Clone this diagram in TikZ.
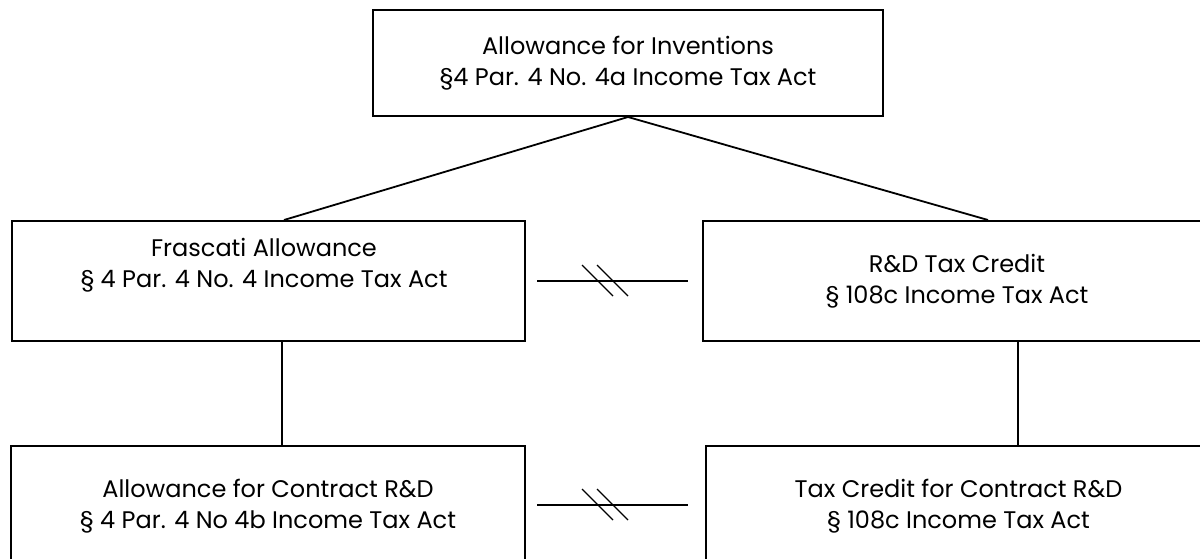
\documentclass[tikz,border=0pt]{standalone}
\usepackage{fontspec}
\setmainfont{Poppins}
\begin{document}
\begin{tikzpicture}[x=1pt,y=-1pt,
  box/.style={draw=black,line width=2pt,rectangle,inner sep=0pt,align=center,
    font=\fontsize{24}{31.5}\selectfont},
  txt/.style={inner sep=0pt,align=center,font=\fontsize{24}{31.5}\selectfont},
  conn/.style={draw=black,line width=1.8pt},
  tick/.style={draw=black,line width=1.3pt}]
\useasboundingbox (0,0) rectangle (1200,558);
% boxes
\node[box,minimum width=510pt,minimum height=106pt] (top) at (628,63)
  {Allowance for Inventions\\§4 Par. 4 No. 4a Income Tax Act};
\node[box,minimum width=513pt,minimum height=120pt] (fra) at (268,281) {};
\node[txt] (fraT) at (264,265) {Frascati Allowance\\§ 4 Par. 4 No. 4 Income Tax Act};
\node[box,minimum width=508pt,minimum height=120pt] (rd) at (957,281)
  {R\&D Tax Credit\\§ 108c Income Tax Act};
\node[box,minimum width=514pt,minimum height=120pt] (bl) at (268,506)
  {Allowance for Contract R\&D\\§ 4 Par. 4 No 4b Income Tax Act};
\node[box,minimum width=505pt,minimum height=120pt] (br) at (958.5,506)
  {Tax Credit for Contract R\&D\\§ 108c Income Tax Act};
% helper coordinates
\coordinate (xl) at (284,0);
\coordinate (xr) at (988,0);
\coordinate (vl) at (282,0);
\coordinate (vr) at (1018,0);
% tree connectors
\draw[conn] (top.south) -- (fra.north -| xl);
\draw[conn] (top.south) -- (rd.north -| xr);
\draw[conn] (fra.south -| vl) -- (bl.north -| vl);
\draw[conn] (rd.south -| vr) -- (br.north -| vr);
% "not combinable" connectors
\coordinate (h1a) at (537,281);
\coordinate (h1b) at (688,281);
\coordinate (h2a) at (537,505);
\coordinate (h2b) at (688,505);
\draw[conn] (h1a) -- (h1b);
\draw[conn] (h2a) -- (h2b);
\draw[tick] (582,265) -- (613,296);
\draw[tick] (597,265) -- (628,296);
\draw[tick] (582,489) -- (613,520);
\draw[tick] (597,489) -- (628,520);
\end{tikzpicture}
\end{document}
